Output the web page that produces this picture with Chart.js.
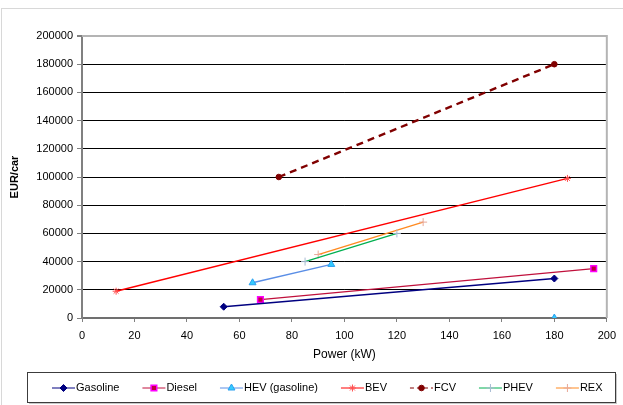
<!DOCTYPE html>
<html>
<head>
<meta charset="utf-8">
<script src="https://cdn.jsdelivr.net/npm/chart.js@4.4.0/dist/chart.umd.min.js"></script>
<style>
    html, body { margin: 0; padding: 0; background: #fff; }
    #wrap { width: 623px; height: 405px; position: relative; }
</style>
</head>
<body>
<div id="wrap"><canvas id="costChart" width="623" height="405"></canvas></div>
<script>
// Series data (Power kW / EUR per car)
const gasolineX = [54, 180];
const gasolineY = [8000, 28000];
const dieselX = [68, 195];
const dieselY = [13000, 35000];
const hevX = [65, 95, 180];
const hevY = [25000, 38000, 0];
const bevX = [13, 185];
const bevY = [19000, 99000];
const fcvX = [75, 180];
const fcvY = [100000, 180000];
const phevX = [85, 120];
const phevY = [40000, 60000];
const rexX = [90, 130];
const rexY = [45000, 68000];

const seriesNames = ['Gasoline', 'Diesel', 'HEV (gasoline)', 'BEV', 'FCV', 'PHEV', 'REX'];
const xTicksMax = 200;
const yTicksMax = 200000;

function toPoints(xs, ys) {
    return xs.map((x, i) => ({ x: x, y: ys[i] }));
}

const FONT = 'Liberation Sans, Arial, sans-serif';

// Plot frame (top / right border of the plot area) and outer border
const frame = {
    id: 'frame',
    beforeDatasetsDraw(chart) {
        const { ctx, chartArea: a } = chart;
        ctx.save();
        ctx.strokeStyle = '#b4b4b4';
        ctx.lineWidth = 2;
        ctx.beginPath();
        ctx.moveTo(a.left, a.top);
        ctx.lineTo(a.right, a.top);
        ctx.lineTo(a.right, a.bottom);
        ctx.stroke();
        ctx.restore();
    },
    afterDraw(chart) {
        const ctx = chart.ctx;
        ctx.save();
        ctx.strokeStyle = '#d8d8d8';
        ctx.lineWidth = 1;
        ctx.strokeRect(1.5, 8.5, 640, 420);
        ctx.restore();
    }
};

// Boxed legend with line + marker samples
const boxLegend = {
    id: 'boxLegend',
    afterDraw(chart) {
        const ctx = chart.ctx;
        const top = 372, h = 30, left = 27, right = 615;
        ctx.save();
        ctx.fillStyle = '#fff';
        ctx.fillRect(left, top, right - left, h);
        ctx.strokeStyle = '#c8c8c8';
        ctx.lineWidth = 2;
        ctx.beginPath();
        ctx.moveTo(left + 2, top + h + 1);
        ctx.lineTo(right + 1, top + h + 1);
        ctx.lineTo(right + 1, top + 2);
        ctx.stroke();
        ctx.strokeStyle = '#3c3c3c';
        ctx.lineWidth = 1;
        ctx.strokeRect(left + 0.5, top + 0.5, right - left, h);

        ctx.font = '11px ' + FONT;
        ctx.textBaseline = 'middle';
        ctx.textAlign = 'left';
        const cy = top + h / 2 + 1;
        let x = 52;
        chart.data.datasets.forEach(ds => {
            ctx.save();
            ctx.strokeStyle = ds.borderColor;
            ctx.lineWidth = 1;
            if (ds.borderDash) ctx.setLineDash([4, 3]);
            ctx.beginPath();
            ctx.moveTo(x, cy);
            ctx.lineTo(x + 23, cy);
            ctx.stroke();
            ctx.restore();

            ctx.save();
            ctx.fillStyle = ds.pointBackgroundColor;
            ctx.strokeStyle = ds.pointBorderColor;
            ctx.lineWidth = ds.pointBorderWidth;
            Chart.helpers.drawPoint(ctx, {
                pointStyle: ds.pointStyle,
                radius: ds.pointRadius,
                borderWidth: ds.pointBorderWidth,
                rotation: 0
            }, x + 11.5, cy);
            ctx.restore();

            ctx.fillStyle = '#000';
            ctx.fillText(ds.label, x + 24, cy);
            x += 24 + ctx.measureText(ds.label).width + 23;
        });
        ctx.restore();
    }
};

function makeSet(label, xs, ys, line, mk, style, radius, extra) {
    return Object.assign({
        label: label,
        data: toPoints(xs, ys),
        showLine: true,
        borderColor: line,
        borderWidth: 1.4,
        pointStyle: style,
        pointRadius: radius,
        pointHoverRadius: radius,
        pointBackgroundColor: mk.fill,
        pointBorderColor: mk.stroke,
        pointBorderWidth: 1,
        tension: 0
    }, extra || {});
}

const datasets = [
    makeSet(seriesNames[0], gasolineX, gasolineY, '#000080', { fill: '#000080', stroke: '#000080' }, 'rectRot', 3.5),
    makeSet(seriesNames[1], dieselX, dieselY, '#c0103c', { fill: '#c00040', stroke: '#ff00ff' }, 'rect', 4, { pointBorderWidth: 1.5 }),
    makeSet(seriesNames[2], hevX, hevY, '#5a8ee6', { fill: '#33ccff', stroke: '#2aa0f0' }, 'triangle', 4, {
        segment: { borderColor: c => c.p0DataIndex === 1 ? 'rgba(0,0,0,0)' : undefined }
    }),
    makeSet(seriesNames[3], bevX, bevY, '#ff0000', { fill: '#ff5050', stroke: '#ff5050' }, 'star', 3.5),
    makeSet(seriesNames[4], fcvX, fcvY, '#800000', { fill: '#800000', stroke: '#800000' }, 'circle', 2.8, { borderWidth: 2.4, borderDash: [7, 5] }),
    makeSet(seriesNames[5], phevX, phevY, '#00b050', { fill: '#a8bcd4', stroke: '#a8bcd4' }, 'cross', 4),
    makeSet(seriesNames[6], rexX, rexY, '#ff8a20', { fill: '#e8a898', stroke: '#e8a898' }, 'cross', 4)
];

const ctx = document.getElementById('costChart').getContext('2d');
const costChart = new Chart(ctx, {
    type: 'scatter',
    data: { datasets: datasets },
    options: {
        responsive: false,
        animation: false,
        events: [],
        layout: { padding: { left: 8, right: 11, top: 36, bottom: 39 } },
        plugins: {
            legend: { display: false },
            tooltip: { enabled: false }
        },
        scales: {
            x: {
                type: 'linear',
                min: 0,
                max: xTicksMax,
                afterFit: s => { s.height = 48; },
                ticks: {
                    stepSize: 20,
                    color: '#000',
                    padding: 7,
                    maxRotation: 0,
                    font: { family: FONT, size: 11 }
                },
                grid: { drawOnChartArea: false, tickLength: 4, tickColor: '#808080' },
                border: { color: '#707070', width: 2 },
                title: {
                    display: true,
                    text: 'Power (kW)',
                    color: '#000',
                    font: { family: FONT, size: 12 },
                    padding: { top: 0, bottom: 4 }
                }
            },
            y: {
                type: 'linear',
                min: 0,
                max: yTicksMax,
                afterFit: s => { s.width = 74; },
                ticks: {
                    stepSize: 20000,
                    color: '#000',
                    padding: 4,
                    font: { family: FONT, size: 11 },
                    callback: v => String(v)
                },
                grid: {
                    color: c => (c.tick && c.tick.value === yTicksMax) ? '#b4b4b4' : '#000',
                    lineWidth: c => (c.tick && c.tick.value === yTicksMax) ? 2 : 1,
                    tickLength: 5,
                    tickColor: '#808080'
                },
                border: { color: '#808080', width: 2 },
                title: {
                    display: true,
                    text: 'EUR/car',
                    color: '#000',
                    font: { family: FONT, size: 11, weight: 'bold' },
                    padding: { top: 0, bottom: 0 }
                }
            }
        }
    },
    plugins: [frame, boxLegend]
});
</script>
</body>
</html>
